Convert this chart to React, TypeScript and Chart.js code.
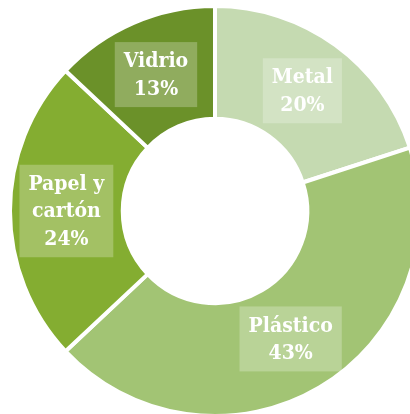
import React, { useEffect, useRef } from "react";
import { Chart, registerables } from "chart.js";

Chart.register(...registerables);

const categories = ["Metal", "Plástico", "Papel y\ncartón", "Vidrio"];
const values = [20, 43, 24, 13];
const colors = ["#C5DAB1", "#A2C474", "#84AD31", "#6B9129"];

const labelPlugin = {
  id: "boxLabels",
  afterDatasetsDraw(chart: any) {
    const ctx = chart.ctx;
    const meta = chart.getDatasetMeta(0);
    const total = values.reduce((a, b) => a + b, 0);
    ctx.save();
    ctx.font = "bold 21px 'DejaVu Serif Condensed', 'DejaVu Serif', serif";
    try { (ctx as any).fontStretch = "condensed"; } catch (e) {}
    ctx.textAlign = "center";
    ctx.textBaseline = "middle";
    const lh = 27.5;
    meta.data.forEach((arc: any, i: number) => {
      const pos = arc.tooltipPosition(false);
      const lines = categories[i].split("\n").concat([Math.round((values[i] / total) * 100) + "%"]);
      let w = 0;
      lines.forEach((l) => { w = Math.max(w, ctx.measureText(l).width); });
      const bw = w + 18;
      const bh = lines.length * lh + 10;
      ctx.fillStyle = "rgba(255,255,255,0.25)";
      ctx.fillRect(pos.x - bw / 2, pos.y - bh / 2, bw, bh);
      ctx.fillStyle = "#ffffff";
      lines.forEach((l, j) => {
        ctx.fillText(l, pos.x, pos.y + (j - (lines.length - 1) / 2) * lh + 1);
      });
    });
    ctx.restore();
  },
};

export default function App() {
  const ref = useRef<HTMLCanvasElement>(null);
  useEffect(() => {
    if (!ref.current) return;
    const chart = new Chart(ref.current, {
      type: "doughnut",
      data: {
        labels: categories,
        datasets: [
          {
            data: values,
            backgroundColor: colors,
            borderColor: "#ffffff",
            borderWidth: 4,
            hoverBorderWidth: 4,
          },
        ],
      },
      options: {
        responsive: false,
        animation: false,
        cutout: "45%",
        layout: { padding: { left: 8, right: 8, top: 4, bottom: 4 } },
        plugins: { legend: { display: false }, tooltip: { enabled: false } },
      },
      plugins: [labelPlugin],
    });
    return () => chart.destroy();
  }, []);
  return (
    <div style={{ position: "fixed", left: 0, top: 0, width: 410, height: 414, overflow: "hidden", background: "#fff" }}>
      <canvas ref={ref} width={430} height={422} style={{ display: "block", width: 430, height: 422 }} />
    </div>
  );
}
